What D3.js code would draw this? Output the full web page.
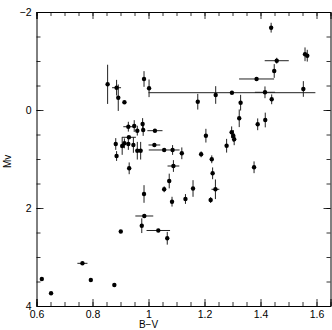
<!DOCTYPE html>
<html>
<head>
<meta charset="utf-8">
<script src="https://cdn.jsdelivr.net/npm/d3@7"></script>
<style>
  html, body { margin: 0; padding: 0; background: #fff; }
  svg text { font-family: "Liberation Sans", "DejaVu Sans", sans-serif; fill: #000; }
</style>
</head>
<body>
<svg id="chart"></svg>
<script>
// Chart size
const width = 332;
const height = 330;

// Colour index B-V of each star
const bv = [0.854, 0.886, 0.892, 0.914, 0.984, 1.002, 1.176, 1.24, 1.298, 1.329,
    1.324, 1.386, 1.449, 1.458, 1.438, 1.559, 1.567, 1.553, 1.416, 1.44,
    1.39, 1.417, 1.297, 1.303, 1.306, 1.279, 1.205, 0.928, 0.949, 0.96,
    0.979, 0.981, 1.023, 0.93, 0.883, 0.886, 0.906, 0.914, 0.928, 0.946,
    0.96, 0.972, 0.931, 0.984, 1.021, 1.056, 1.086, 1.119, 1.089, 1.074,
    1.056, 1.084, 1.132, 1.159, 1.188, 1.226, 1.229, 1.222, 1.239, 1.377,
    0.985, 0.976, 1.035, 1.067, 0.901, 0.878, 0.619, 0.652, 0.764, 0.794];

// Absolute magnitude Mv
const mv = [-0.524, -0.455, -0.251, -0.157, -0.633, -0.443, -0.169, -0.306, -0.353, -0.149,
    0.169, -0.633, -0.796, -1.006, -1.68, -1.137, -1.108, -0.429, -0.361, -0.218,
    0.292, 0.204, 0.455, 0.531, 0.598, 0.729, 0.524, 0.341, 0.327, 0.422,
    0.286, 0.408, 0.422, 0.557, 0.694, 0.939, 0.735, 0.68, 0.694, 0.714,
    0.831, 0.831, 1.19, 1.714, 0.714, 0.816, 0.816, 0.884, 1.143, 1.449,
    1.618, 1.871, 1.816, 1.602, 0.904, 1.006, 1.292, 1.837, 1.618, 1.169,
    2.163, 2.361, 2.459, 2.618, 2.48, 3.571, 3.449, 3.741, 3.129, 3.469];

// Error in B-V (half length of horizontal bar)
const bvErr = [0, 0.016, 0, 0, 0, 0, 0, 0, 0.298, 0,
    0, 0.0625, 0, 0.043, 0, 0, 0, 0, 0.036, 0,
    0, 0, 0, 0, 0, 0, 0, 0.018, 0, 0,
    0, 0, 0.027, 0.025, 0, 0, 0, 0, 0, 0,
    0, 0, 0, 0, 0.021, 0.055, 0, 0, 0.021, 0,
    0, 0, 0, 0, 0, 0, 0, 0, 0.014, 0,
    0.032, 0, 0.042, 0, 0, 0, 0, 0, 0.018, 0];

// Error in Mv (half length of vertical bar)
const mvErr = [0.4, 0.16, 0.27, 0, 0.16, 0.18, 0.16, 0.18, 0, 0.16,
    0.18, 0, 0.14, 0.06, 0.1, 0.14, 0.12, 0.16, 0.12, 0.1,
    0.12, 0.15, 0.12, 0.12, 0.12, 0.14, 0.14, 0.1, 0.12, 0.1,
    0.12, 0.12, 0, 0, 0.12, 0.1, 0.18, 0.1, 0.12, 0.16,
    0.18, 0.18, 0.12, 0.18, 0, 0, 0.1, 0.12, 0.12, 0.15,
    0.06, 0.1, 0.1, 0.17, 0.06, 0.08, 0.12, 0.06, 0.2, 0.12,
    0, 0.15, 0, 0.13, 0, 0, 0, 0, 0, 0];

// Tick values
const xMajor = [0.6, 0.8, 1, 1.2, 1.4, 1.6];
const xMinor = d3.range(0.6, 1.651, 0.05).map(v => +v.toFixed(2));
const yMajor = [-2, 0, 2, 4];
const yMinor = d3.range(-2, 4.01, 0.5);

const stars = bv.map((d, i) => ({ bv: d, mv: mv[i], ex: bvErr[i], ey: mvErr[i] }));

const svg = d3.select("#chart")
    .attr("width", width)
    .attr("height", height);

// Plot frame
const plotLeft = 36.5, plotRight = 330.5, plotTop = 12, plotBottom = 306;

const x = d3.scaleLinear().domain([0.6, 1.65]).range([plotLeft, plotRight]);
const y = d3.scaleLinear().domain([-2, 4]).range([plotTop, plotBottom]);

const fmt = d => String(d).replace("-", "\u2212");

// Inward ticks on all four sides: minor set first, then major set with labels
const sides = [
    [() => d3.axisBottom(x), `translate(0,${plotBottom})`, xMinor, xMajor, true],
    [() => d3.axisTop(x), `translate(0,${plotTop})`, xMinor, xMajor, false],
    [() => d3.axisLeft(y), `translate(${plotLeft},0)`, yMinor, yMajor, true],
    [() => d3.axisRight(y), `translate(${plotRight},0)`, yMinor, yMajor, false]
];

sides.forEach(([make, tr, minor, major, labels]) => {
    const gMinor = svg.append("g").attr("transform", tr)
        .call(make().tickValues(minor).tickSize(-4).tickFormat(""));
    gMinor.select(".domain").remove();

    const g = svg.append("g").attr("transform", tr)
        .call(make().tickValues(major).tickSize(-7).tickPadding(5)
            .tickFormat(labels ? fmt : ""));
    g.select(".domain").attr("stroke", "#000");
    g.selectAll("text").attr("font-size", 10.5);
});

svg.selectAll(".tick line").attr("stroke", "#000").attr("stroke-width", 0.8);

// Axis titles
svg.append("text")
    .attr("x", x(1))
    .attr("y", 328)
    .attr("text-anchor", "middle")
    .attr("font-size", 10)
    .attr("font-family", "DejaVu Serif, serif")
    .text("B\u2212V");

svg.append("text")
    .attr("transform", `translate(11,${y(1.05)}) rotate(-90)`)
    .attr("text-anchor", "middle")
    .attr("font-size", 10)
    .attr("font-family", "DejaVu Serif, serif")
    .text("Mv");

// Error bars
const bars = svg.append("g")
    .attr("stroke", "#222")
    .attr("stroke-width", 1);

bars.selectAll("line.ex")
    .data(stars.filter(d => d.ex > 0))
    .enter().append("line")
    .attr("class", "ex")
    .attr("x1", d => x(d.bv - d.ex))
    .attr("x2", d => x(d.bv + d.ex))
    .attr("y1", d => y(d.mv))
    .attr("y2", d => y(d.mv));

bars.selectAll("line.ey")
    .data(stars.filter(d => d.ey > 0))
    .enter().append("line")
    .attr("class", "ey")
    .attr("x1", d => x(d.bv))
    .attr("x2", d => x(d.bv))
    .attr("y1", d => y(d.mv - d.ey))
    .attr("y2", d => y(d.mv + d.ey));

// Star points
svg.append("g")
    .selectAll("circle")
    .data(stars)
    .enter().append("circle")
    .attr("cx", d => x(d.bv))
    .attr("cy", d => y(d.mv))
    .attr("r", 2.2)
    .attr("fill", "#000");
</script>
</body>
</html>
